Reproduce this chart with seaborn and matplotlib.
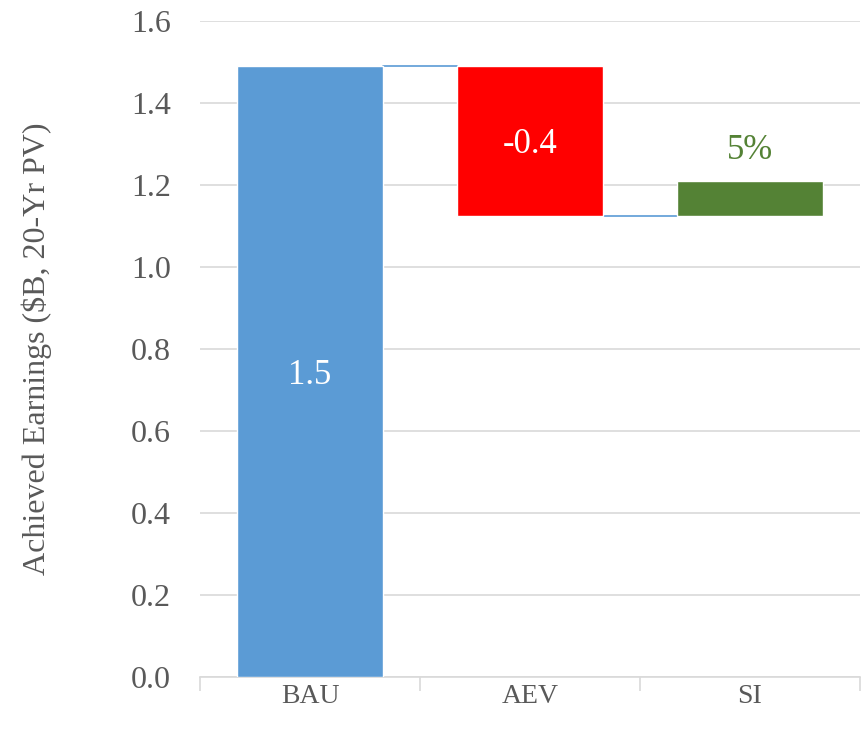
import numpy as np
import matplotlib.pyplot as plt
import seaborn as sns

# waterfall values
categories = ["BAU", "AEV", "SI"]
changes = [1.49, -0.365, 0.085]
label_texts = ["1.5", "-0.4", "5%"]
bar_colors = ["#5B9BD5", "#FF0000", "#548235"]
label_colors = ["white", "white", "#548235"]
yticks = [0.0, 0.2, 0.4, 0.6, 0.8, 1.0, 1.2, 1.4, 1.6]

sns.set_theme(style="white")
plt.rcParams['font.family'] = ['Liberation Serif', 'DejaVu Serif']

cum = np.cumsum(changes)
starts = np.concatenate([[0], cum[:-1]])
bottoms = np.minimum(starts, cum)
heights = np.abs(np.array(changes))

fig = plt.figure(figsize=(8.61, 7.31), dpi=100)
ax = fig.add_axes([0.2323, 0.0739, 0.7665, 0.8974])

width = 0.66
for i, cat in enumerate(categories):
    sns.barplot(x=[cat], y=[heights[i]], order=categories, bottom=bottoms[i],
                color=bar_colors[i], saturation=1, width=width, ax=ax, zorder=3)

# connectors
for i in range(len(categories) - 1):
    ax.plot([i + width / 2, i + 1 - width / 2], [cum[i], cum[i]],
            color="#5B9BD5", lw=1.2, zorder=2)

# data labels
for i in range(len(categories)):
    if label_colors[i] == "white":
        ypos = bottoms[i] + heights[i] / 2
        va = "center_baseline"
    else:
        ypos = bottoms[i] + heights[i] + 0.035
        va = "bottom"
    ax.text(i, ypos, label_texts[i], ha="center", va=va, color=label_colors[i],
            fontsize=25, zorder=4)

ax.set_ylim(0, 1.6)
ax.set_xlim(-0.5, 2.5)
ax.set_yticks(yticks)
ax.set_yticklabels([f"{v:.1f}" for v in yticks])
ax.yaxis.grid(True, color="#D9D9D9", lw=1.2, zorder=0)
ax.set_axisbelow(True)

for s in ["left", "right", "top"]:
    ax.spines[s].set_visible(False)
ax.spines["bottom"].set_color("#D9D9D9")
ax.spines["bottom"].set_linewidth(1.2)

ax.set_xticks([-0.5, 0.5, 1.5, 2.5], minor=True)
ax.tick_params(axis="x", which="minor", length=10, color="#D9D9D9", width=1.2, bottom=True)
ax.tick_params(axis="x", which="major", length=0, pad=5, labelsize=20, labelcolor="#595959")
ax.tick_params(axis="y", length=0, pad=21, labelsize=23, labelcolor="#595959")

ax.set_xlabel("")
ax.set_ylabel(r"Achieved Earnings (\$B, 20-Yr PV)", fontsize=23, color="#595959")
ax.yaxis.set_label_coords(-0.224, 0.5)

fig.savefig("out.png", dpi=100)
